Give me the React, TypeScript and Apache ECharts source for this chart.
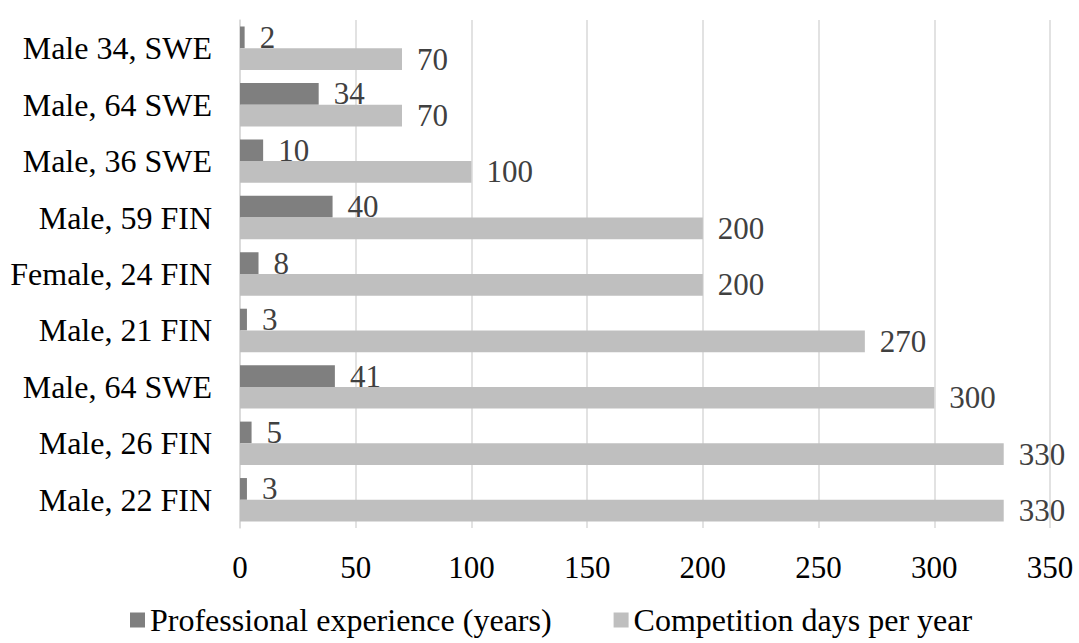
import React, { useEffect, useRef } from "react";
import * as echarts from "echarts";

const categories = [
  "Male, 22 FIN",
  "Male, 26 FIN",
  "Male, 64 SWE",
  "Male, 21 FIN",
  "Female, 24 FIN",
  "Male, 59 FIN",
  "Male, 36 SWE",
  "Male, 64 SWE",
  "Male 34, SWE",
];
const experienceYears = [3, 5, 41, 3, 8, 40, 10, 34, 2];
const competitionDays = [330, 330, 300, 270, 200, 200, 100, 70, 70];
const seriesNames = ["Professional experience (years)", "Competition days per year"];
const xTicks = { min: 0, max: 350, interval: 50 };

const FONT = "'Liberation Serif', 'Times New Roman', serif";

export default function App() {
  const ref = useRef<HTMLDivElement>(null);
  useEffect(() => {
    if (!ref.current) return;
    const chart = echarts.init(ref.current, null, { renderer: "svg" });
    const labelStyle = {
      show: true,
      position: "right" as const,
      distance: 15,
      fontFamily: FONT,
      fontSize: 31,
      color: "#404040",
    };
    chart.setOption({
      animation: false,
      backgroundColor: "#ffffff",
      textStyle: { fontFamily: FONT },
      grid: { left: 240, right: 29, top: 20, bottom: 115, containLabel: false },
      legend: {
        data: seriesNames,
        left: 130,
        top: 604,
        padding: 0,
        itemWidth: 15,
        itemHeight: 15,
        itemGap: 62,
        icon: "rect",
        textStyle: { fontFamily: FONT, fontSize: 32, color: "#000000" },
      },
      xAxis: {
        type: "value",
        min: xTicks.min,
        max: xTicks.max,
        interval: xTicks.interval,
        axisLine: { show: false },
        axisTick: { show: false },
        splitLine: { show: true, lineStyle: { color: "#d9d9d9", width: 1.5 } },
        axisLabel: { fontFamily: FONT, fontSize: 31, color: "#000000", margin: 24 },
      },
      yAxis: {
        type: "category",
        data: categories,
        axisLine: { show: true, lineStyle: { color: "#d9d9d9", width: 1.5 } },
        axisTick: { show: false },
        axisLabel: { fontFamily: FONT, fontSize: 32, color: "#000000", margin: 28 },
      },
      series: [
        {
          name: seriesNames[0],
          type: "bar",
          data: experienceYears,
          barGap: "0%",
          barCategoryGap: "23%",
          itemStyle: { color: "#7f7f7f" },
          label: labelStyle,
        },
        {
          name: seriesNames[1],
          type: "bar",
          data: competitionDays,
          barGap: "0%",
          barCategoryGap: "23%",
          itemStyle: { color: "#bfbfbf" },
          label: labelStyle,
        },
      ],
    });
    return () => chart.dispose();
  }, []);
  return (
    <div
      ref={ref}
      style={{ position: "absolute", left: 0, top: 0, width: 1079, height: 643 }}
    />
  );
}
